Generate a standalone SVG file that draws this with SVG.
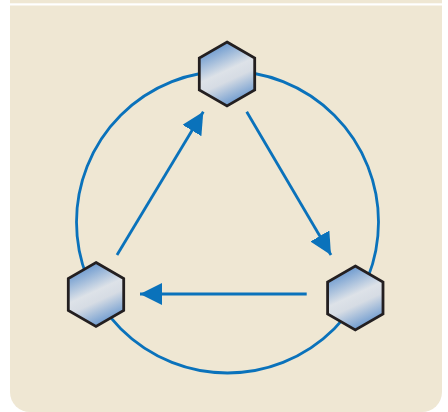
<svg xmlns="http://www.w3.org/2000/svg" width="448" height="412" viewBox="0 0 448 412">
<defs>
<style>
.hex{stroke:#231f20;stroke-width:2.8;stroke-linejoin:miter;fill:url(#g)}
.conn{stroke:#0a72bb;stroke-width:2.8;fill:none}
</style>
<linearGradient id="g" x1="0.3" y1="0" x2="0.7" y2="1">
<stop offset="0" stop-color="#5a8ecb"/>
<stop offset="0.45" stop-color="#dde2e8"/>
<stop offset="0.6" stop-color="#d6dce4"/>
<stop offset="1" stop-color="#5a8ecb"/>
</linearGradient>
<marker id="ah" markerUnits="userSpaceOnUse" markerWidth="24" markerHeight="24" refX="22" refY="11" orient="auto">
<path d="M0,0 L22,11 L0,22 z" fill="#0a72bb"/>
</marker>
<polygon id="hx" points="0,-32 27.7,-16 27.7,16 0,32 -27.7,16 -27.7,-16"/>
</defs>
<rect x="0" y="0" width="448" height="412" fill="#ffffff"/>
<rect x="10" y="0" width="432" height="3.3" fill="#efe7d3"/>
<path d="M10,5.5 H442 V392 A20,20 0 0 1 422,412 H30 A20,20 0 0 1 10,392 Z" fill="#efe7d3"/>
<g id="connectors">
<circle class="conn" cx="227.5" cy="222" r="151"/>
<line class="conn" x1="246.7" y1="111.7" x2="331" y2="255" marker-end="url(#ah)"/>
<line class="conn" x1="306.7" y1="294" x2="140" y2="294" marker-end="url(#ah)"/>
<line class="conn" x1="117" y1="255" x2="203.3" y2="111.7" marker-end="url(#ah)"/>
</g>
<g id="node-top"><use href="#hx" class="hex" x="227" y="74"/></g>
<g id="node-right"><use href="#hx" class="hex" x="355.3" y="298"/></g>
<g id="node-left"><use href="#hx" class="hex" x="96" y="294.5"/></g>
</svg>
